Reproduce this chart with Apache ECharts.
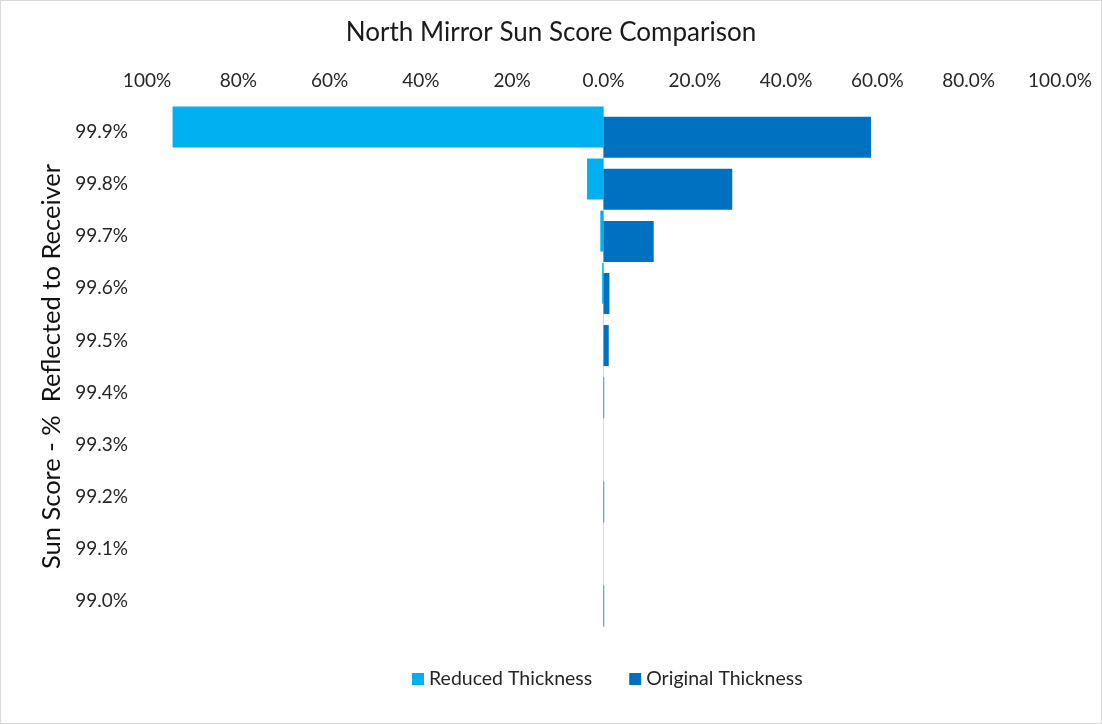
<!DOCTYPE html>
<html>
<head>
<meta charset="utf-8">
<script src="https://cdn.jsdelivr.net/npm/echarts@6/dist/echarts.min.js"></script>
<style>
html,body{margin:0;padding:0;background:#fff;}
#c{width:1102px;height:724px;box-sizing:border-box;border:1px solid #d9d9d9;}
</style>
</head>
<body>
<div id="c"></div>
<script>
const categories = ['99.9%','99.8%','99.7%','99.6%','99.5%','99.4%','99.3%','99.2%','99.1%','99.0%'];
const reducedThickness = [94.4, 3.6, 0.7, 0.3, 0, 0, 0, 0, 0, 0];
const originalThickness = [58.6, 28.2, 11.0, 1.3, 1.15, 0.15, 0, 0.15, 0, 0.15];

const FONT = 'Lato, "Open Sans", sans-serif';
const chart = echarts.init(document.getElementById('c'));
chart.setOption({
  animation: false,
  textStyle: {fontFamily: FONT},
  title: {
    text: 'North Mirror Sun Score Comparison',
    left: 'center', top: 14,
    textStyle: {fontFamily: FONT, fontSize: 26, fontWeight: 'normal', color: '#1a1a1a'}
  },
  legend: {
    bottom: 29, left: 406,
    icon: 'rect', itemWidth: 12, itemHeight: 12, itemGap: 37,
    textStyle: {fontFamily: FONT, fontSize: 19.5, color: '#262626'},
    data: ['Reduced Thickness', 'Original Thickness']
  },
  grid: {left: 146, right: 41, top: 105, bottom: 96},
  xAxis: {
    type: 'value', position: 'top', min: -100, max: 100, interval: 20,
    axisLine: {show: false}, axisTick: {show: false}, splitLine: {show: false},
    axisLabel: {
      fontSize: 19, color: '#262626', margin: 16, fontFamily: FONT,
      formatter: v => v < 0 ? Math.abs(v) + '%' : v.toFixed(1) + '%'
    }
  },
  yAxis: {
    type: 'category', data: categories, inverse: true,
    name: 'Sun Score - %  Reflected to Receiver', nameLocation: 'middle', nameGap: 75,
    nameTextStyle: {fontFamily: FONT, fontSize: 25.5, color: '#111'},
    axisLine: {show: true, onZero: true, lineStyle: {color: '#d9d9d9', width: 1}},
    axisTick: {show: false},
    axisLabel: {fontSize: 19, color: '#262626', margin: 19, fontFamily: FONT}
  },
  series: [
    {
      name: 'Reduced Thickness', type: 'bar',
      data: reducedThickness.map(v => -v),
      itemStyle: {color: '#00B0F0'},
      barWidth: 41, barGap: '-75%'
    },
    {
      name: 'Original Thickness', type: 'bar',
      data: originalThickness,
      itemStyle: {color: '#0070C0'},
      barWidth: 41
    }
  ]
});
</script>
</body>
</html>
